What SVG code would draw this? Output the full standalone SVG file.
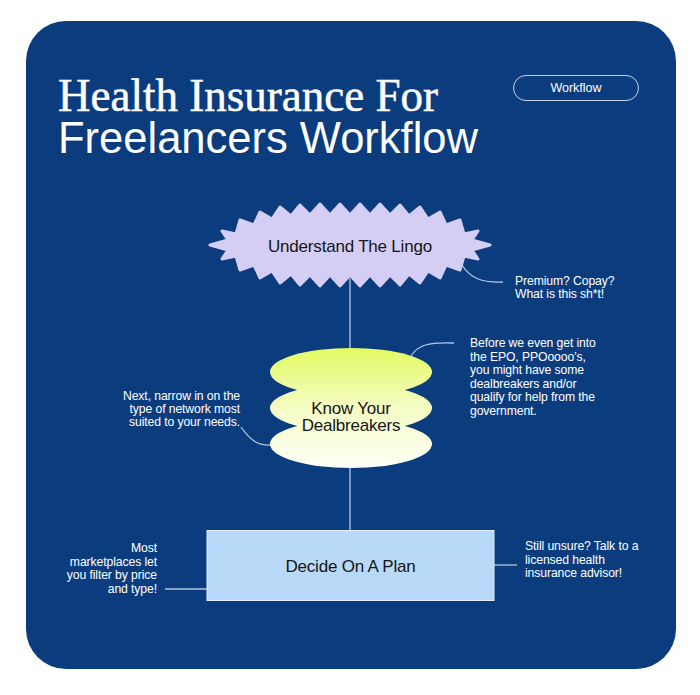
<svg xmlns="http://www.w3.org/2000/svg" width="700" height="695" viewBox="0 0 700 695">
<style>
.ann{font-family:"Liberation Sans",Arial,sans-serif;font-size:12.2px;fill:#ffffff;letter-spacing:-0.1px}
.lbl{font-family:"Liberation Sans",Arial,sans-serif;font-size:17px;fill:#161616;text-anchor:middle;letter-spacing:-0.2px}
.conn{fill:none;stroke:#b4c6e2;stroke-width:1.3}
</style>
<defs>
<linearGradient id="gy" gradientUnits="userSpaceOnUse" x1="0" y1="348" x2="0" y2="468">
<stop offset="0" stop-color="#e4fa62"/>
<stop offset="0.5" stop-color="#f4fcc4"/>
<stop offset="1" stop-color="#fffff8"/>
</linearGradient>
</defs>
<rect width="700" height="695" fill="#ffffff"/>
<rect id="panel" x="26" y="21" width="650" height="648" rx="40" fill="#0b3d7e"/>
<g id="title">
<text x="58" y="111" font-family="'Liberation Serif','Times New Roman',serif" font-size="47" fill="#ffffff" stroke="#ffffff" stroke-width="0.5" textLength="380" lengthAdjust="spacingAndGlyphs">Health Insurance For</text>
<text x="58" y="153" font-family="'Liberation Sans',Arial,sans-serif" font-size="44" fill="#ffffff" textLength="420" lengthAdjust="spacingAndGlyphs">Freelancers Workflow</text>
</g>
<g id="tag">
<rect x="513.5" y="75.5" width="125" height="25" rx="12.5" fill="none" stroke="#c9d4e8" stroke-width="1"/>
<text x="576" y="92" font-family="'Liberation Sans',Arial,sans-serif" font-size="12.5" fill="#ffffff" text-anchor="middle">Workflow</text>
</g>
<g id="connectors">
<line class="conn" x1="350" y1="278" x2="350" y2="355"/>
<line class="conn" x1="350" y1="465" x2="350" y2="531"/>
<path class="conn" d="M462,265 C470,278 482,283 503,282"/>
<path class="conn" d="M411,356 C418,345 428,342 454,343"/>
<path class="conn" d="M241,427 C250,440 258,446 271,445"/>
<line class="conn" x1="165" y1="589" x2="207" y2="589"/>
<line class="conn" x1="494" y1="565" x2="517" y2="565"/>
</g>
<g id="node-lingo">
<path fill="#d4cdf4" stroke="#d4cdf4" stroke-width="3" stroke-linejoin="round" d="M210,245 L228,240 L222,231 L236,234 L240,220 L254,225 L260,212 L272,219 L280,207 L291,216 L300,205 L310,215 L320,204 L330,215 L340,204 L350,215 L360,204 L370,215 L380,204 L390,215 L400,205 L409,216 L420,207 L428,219 L440,212 L446,225 L460,220 L464,234 L478,231 L472,240 L490,245 L472,250 L478,259 L464,256 L460,270 L446,265 L440,278 L428,271 L420,283 L409,274 L400,285 L390,275 L380,286 L370,275 L360,286 L350,275 L340,286 L330,275 L320,286 L310,275 L300,285 L291,274 L280,283 L272,271 L260,278 L254,265 L240,270 L236,256 L222,259 L228,250 Z"/>
<text class="lbl" x="350" y="252" font-size="17.5">Understand The Lingo</text>
</g>
<g id="note-lingo">
<text class="ann" x="515" y="285">Premium? Copay?</text>
<text class="ann" x="515" y="298">What is this sh*t!</text>
</g>
<g id="node-dealbreakers">
<ellipse cx="351" cy="444" rx="81" ry="24" fill="url(#gy)"/>
<ellipse cx="351" cy="408" rx="81" ry="24" fill="url(#gy)"/>
<ellipse cx="351" cy="372" rx="81" ry="24" fill="url(#gy)"/>
<text class="lbl" x="351" y="414" font-size="16.5">Know Your</text>
<text class="lbl" x="351" y="431" font-size="16.5">Dealbreakers</text>
</g>
<g id="note-epo">
<text class="ann" x="470" y="347">Before we even get into</text>
<text class="ann" x="470" y="360.5">the EPO, PPOoooo’s,</text>
<text class="ann" x="470" y="374">you might have some</text>
<text class="ann" x="470" y="387.5">dealbreakers and/or</text>
<text class="ann" x="470" y="401">qualify for help from the</text>
<text class="ann" x="470" y="414.5">government.</text>
</g>
<g id="note-network" text-anchor="end">
<text class="ann" x="240" y="400">Next, narrow in on the</text>
<text class="ann" x="240" y="413">type of network most</text>
<text class="ann" x="240" y="426">suited to your needs.</text>
</g>
<g id="node-plan">
<rect x="207" y="530.5" width="287" height="70" fill="#b9d9f8" stroke="#e2eefa" stroke-width="1"/>
<text class="lbl" x="350.5" y="572">Decide On A Plan</text>
</g>
<g id="note-market" text-anchor="end">
<text class="ann" x="157" y="552">Most</text>
<text class="ann" x="157" y="565.5">marketplaces let</text>
<text class="ann" x="157" y="579">you filter by price</text>
<text class="ann" x="157" y="592.5">and type!</text>
</g>
<g id="note-advisor">
<text class="ann" x="525" y="550">Still unsure? Talk to a</text>
<text class="ann" x="525" y="563.5">licensed health</text>
<text class="ann" x="525" y="577">insurance advisor!</text>
</g>
</svg>
